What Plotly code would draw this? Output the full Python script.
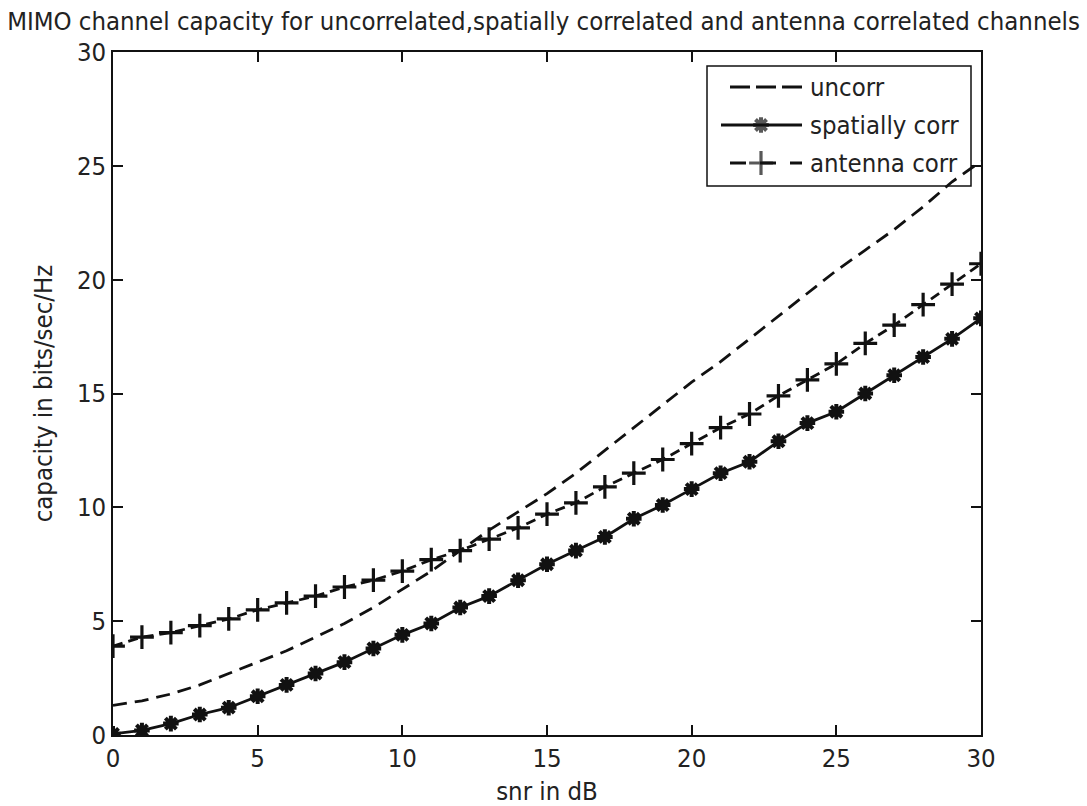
import plotly.graph_objects as go

# SNR sweep (dB)
snr_db = list(range(0, 31))

# Ergodic capacity (bits/sec/Hz) for each channel model
cap_uncorr = [1.3, 1.5, 1.8, 2.2, 2.7, 3.2, 3.7, 4.3, 4.9, 5.6,
              6.4, 7.2, 8.1, 9.0, 9.8, 10.6, 11.5, 12.5, 13.5, 14.5,
              15.5, 16.4, 17.4, 18.4, 19.4, 20.4, 21.3, 22.2, 23.2, 24.3, 25.2]
cap_spatial = [0.05, 0.2, 0.5, 0.9, 1.2, 1.7, 2.2, 2.7, 3.2, 3.8,
               4.4, 4.9, 5.6, 6.1, 6.8, 7.5, 8.1, 8.7, 9.5, 10.1,
               10.8, 11.5, 12.0, 12.9, 13.7, 14.2, 15.0, 15.8, 16.6, 17.4, 18.3]
cap_antenna = [3.9, 4.3, 4.5, 4.8, 5.1, 5.5, 5.8, 6.1, 6.5, 6.8,
               7.2, 7.7, 8.1, 8.6, 9.1, 9.7, 10.2, 10.9, 11.5, 12.1,
               12.8, 13.5, 14.1, 14.9, 15.6, 16.3, 17.2, 18.0, 18.9, 19.8, 20.7]

series_names = ["uncorr", "spatially corr", "antenna corr"]
x_ticks = [0, 5, 10, 15, 20, 25, 30]
y_ticks = [0, 5, 10, 15, 20, 25, 30]

FONT = "Liberation Sans Narrow, DejaVu Sans Condensed, Arial Narrow, sans-serif"
INK = "#111111"
TXT = "#222222"
FS = 25.5

# plot-area geometry in pixels (used to place the hand-drawn legend box)
W, H = 1087, 806
L, R, T, B = 113, 106, 52, 71
PW, PH = W - L - R, H - T - B


def px(xp):
    return (xp - L) / PW


def py(yp):
    return (H - B - yp) / PH


fig = go.Figure()

fig.add_trace(go.Scatter(
    x=snr_db, y=cap_uncorr, mode="lines", name=series_names[0],
    line=dict(color=INK, width=2.8, dash="14px,8px"), showlegend=False))
fig.add_trace(go.Scatter(
    x=snr_db, y=cap_spatial, mode="lines+markers", name=series_names[1],
    line=dict(color=INK, width=2.8),
    marker=dict(symbol="asterisk-open", size=13, line=dict(color=INK, width=4)),
    showlegend=False))
fig.add_trace(go.Scatter(
    x=snr_db, y=cap_antenna, mode="lines+markers", name=series_names[2],
    line=dict(color=INK, width=2.8, dash="10px,6px"),
    marker=dict(symbol="cross-thin-open", size=17, line=dict(color=INK, width=3.2)),
    showlegend=False))

# legend samples drawn on an overlay axis spanning the plot area
leg_y = [py(87), py(125), py(163)]
fig.add_trace(go.Scatter(
    x=[px(730), px(802)], y=[leg_y[0]] * 2, mode="lines", xaxis="x2", yaxis="y2",
    line=dict(color=INK, width=2.8, dash="20px,6px"), showlegend=False, hoverinfo="skip"))
fig.add_trace(go.Scatter(
    x=[px(721), px(761), px(802)], y=[leg_y[1]] * 3, mode="lines+markers",
    xaxis="x2", yaxis="y2",
    line=dict(color=INK, width=2.8),
    marker=dict(symbol="asterisk-open", size=[0, 13, 0], line=dict(color=INK, width=4)),
    showlegend=False, hoverinfo="skip"))
fig.add_trace(go.Scatter(
    x=[px(730), px(761), px(802)], y=[leg_y[2]] * 3, mode="lines+markers",
    xaxis="x2", yaxis="y2",
    line=dict(color=INK, width=2.8, dash="16px,14px"),
    marker=dict(symbol="cross-thin-open", size=[0, 17, 0], line=dict(color=INK, width=3.2)),
    showlegend=False, hoverinfo="skip"))

shapes = [dict(type="rect", xref="paper", yref="paper",
               x0=px(707), x1=px(971), y0=py(186), y1=py(66),
               line=dict(color=INK, width=1.5), fillcolor="white", layer="below")]

annotations = []
for name, yy in zip(series_names, leg_y):
    annotations.append(dict(
        x=px(808), y=yy, xref="paper", yref="paper", text=name, showarrow=False,
        xanchor="left", yanchor="middle", font=dict(family=FONT, size=FS, color=TXT)))

axis_common = dict(
    showline=True, linecolor=INK, linewidth=1.5, mirror="ticks",
    ticks="inside", ticklen=10, tickwidth=1.5, tickcolor=INK,
    showgrid=False, zeroline=False, automargin=False,
    tickfont=dict(family=FONT, size=FS, color=TXT),
)

fig.update_layout(
    width=W, height=H,
    margin=dict(l=L, r=R, t=T, b=B),
    paper_bgcolor="white", plot_bgcolor="white",
    title=dict(
        text="MIMO channel capacity for uncorrelated,spatially correlated and antenna correlated channels",
        x=0.5, xref="container", xanchor="center",
        y=1 - 21 / H, yref="container", yanchor="middle",
        font=dict(family=FONT, size=FS, color=TXT)),
    xaxis=dict(range=[0, 30], tickvals=x_ticks, ticktext=[str(v) for v in x_ticks],
               title=dict(text="snr in dB", font=dict(family=FONT, size=FS, color=TXT), standoff=14),
               **axis_common),
    yaxis=dict(range=[0, 30], tickvals=y_ticks, ticktext=[str(v) for v in y_ticks],
               title=dict(text="capacity in bits/sec/Hz", font=dict(family=FONT, size=FS, color=TXT), standoff=17),
               **axis_common),
    xaxis2=dict(range=[0, 1], overlaying="x", visible=False, fixedrange=True),
    yaxis2=dict(range=[0, 1], overlaying="y", visible=False, fixedrange=True),
    shapes=shapes,
    annotations=annotations,
)

fig.write_html("out.html")
